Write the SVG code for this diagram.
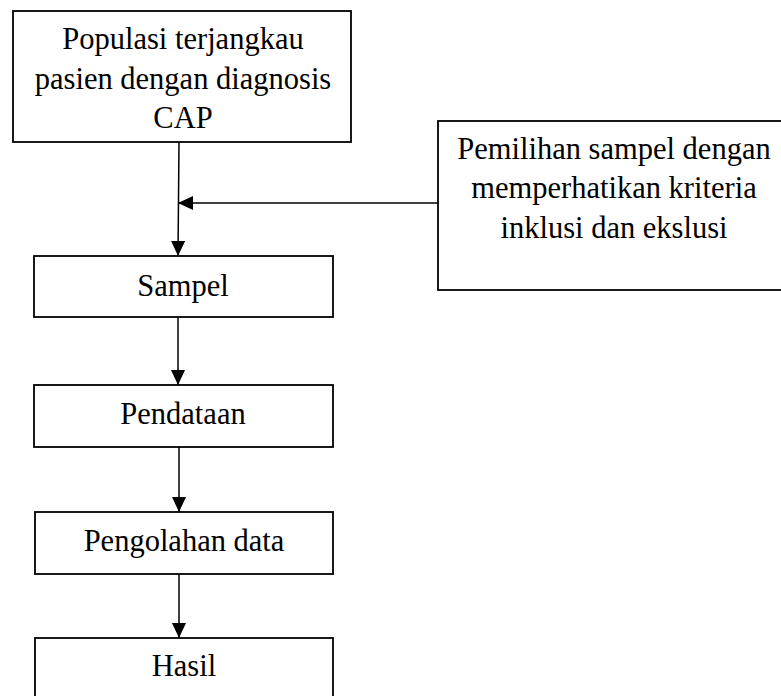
<svg xmlns="http://www.w3.org/2000/svg" width="781" height="696" viewBox="0 0 781 696">
<defs>
<style>
.box{fill:#fff;stroke:#000;stroke-width:1.8}
.t{font-family:"Liberation Serif","Times New Roman","DejaVu Serif",serif;font-size:30.5px;fill:#000;text-anchor:middle}
.ln{stroke:#000;stroke-width:1.5;fill:none}
</style>
<marker id="ah" markerWidth="15" markerHeight="14" refX="15" refY="7" orient="auto" markerUnits="userSpaceOnUse">
<path d="M0,0 L15,7 L0,14 Z" fill="#000"/>
</marker>
</defs>
<rect width="781" height="696" fill="#fff"/>
<g id="n1"><rect class="box" x="13" y="11" width="338" height="131"/>
<text class="t" x="183" y="49">Populasi terjangkau</text>
<text class="t" x="183" y="88.5">pasien dengan diagnosis</text>
<text class="t" x="183" y="128">CAP</text></g>
<g id="n2"><rect class="box" x="438" y="121" width="351" height="169"/>
<text class="t" x="614" y="159">Pemilihan sampel dengan</text>
<text class="t" x="614" y="198">memperhatikan kriteria</text>
<text class="t" x="614" y="238">inklusi dan ekslusi</text></g>
<g id="n3"><rect class="box" x="34" y="256" width="299" height="61"/>
<text class="t" x="183" y="296">Sampel</text></g>
<g id="n4"><rect class="box" x="34" y="385" width="299" height="62"/>
<text class="t" x="183" y="424">Pendataan</text></g>
<g id="n5"><rect class="box" x="35" y="512" width="298" height="62"/>
<text class="t" x="184" y="551">Pengolahan data</text></g>
<g id="n6"><rect class="box" x="35" y="638" width="298" height="70"/>
<text class="t" x="184" y="676">Hasil</text></g>
<g id="connectors">
<line class="ln" x1="179" y1="142" x2="178" y2="256" marker-end="url(#ah)"/>
<line class="ln" x1="438" y1="203" x2="178" y2="203" marker-end="url(#ah)"/>
<line class="ln" x1="178" y1="317" x2="178" y2="385" marker-end="url(#ah)"/>
<line class="ln" x1="179" y1="447" x2="179" y2="512" marker-end="url(#ah)"/>
<line class="ln" x1="179" y1="574" x2="179" y2="638" marker-end="url(#ah)"/>
</g>
</svg>
